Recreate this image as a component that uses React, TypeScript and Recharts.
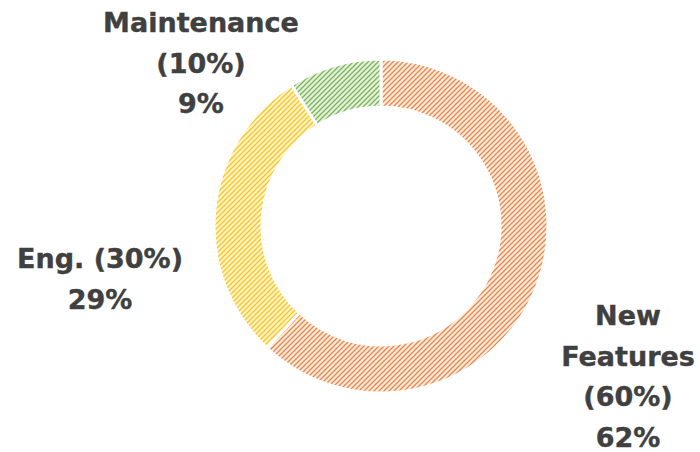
import React from "react";
import { PieChart, Pie, Cell } from "recharts";

const categories = ["New Features", "Eng.", "Maintenance"];
const plannedShare = ["60%", "30%", "10%"];
const actualShare = [62, 29, 9];

const data = categories.map((name, i) => ({
  name,
  planned: plannedShare[i],
  value: actualShare[i],
}));

const labelLines: string[][] = [
  ["New", "Features", `(${plannedShare[0]})`, `${actualShare[0]}%`],
  [`Eng. (${plannedShare[1]})`, `${actualShare[1]}%`],
  ["Maintenance", `(${plannedShare[2]})`, `${actualShare[2]}%`],
];

// layout: label anchor offsets from pie center (first baseline)
const labelOffsets = [
  { dx: 247, dy: 99 },
  { dx: -281, dy: 42 },
  { dx: -180, dy: -194 },
];

const patterns = [
  { id: "hatch-orange", line: "#EE8545", bg: "#FCEBDF" },
  { id: "hatch-yellow", line: "#FFC414", bg: "#FFF4D2" },
  { id: "hatch-green", line: "#7DB45A", bg: "#E4F1DB" },
];

const renderLabel = (props: any) => {
  const { cx, cy, index } = props;
  const off = labelOffsets[index];
  const lines = labelLines[index];
  const x = cx + off.dx;
  const y = cy + off.dy;
  return (
    <text
      key={`lbl-${index}`}
      x={x}
      y={y}
      textAnchor="middle"
      fill="#404040"
      stroke="#404040"
      strokeWidth={0.4}
      fontFamily="'DejaVu Sans', Verdana, sans-serif"
      fontWeight="bold"
      fontSize={27}
    >
      {lines.map((t, i) => (
        <tspan key={i} x={x} dy={i === 0 ? 0 : 40.5}>
          {t}
        </tspan>
      ))}
    </text>
  );
};

export default function App() {
  return (
    <div style={{ position: "absolute", left: 0, top: 0, width: 700, height: 452, background: "#fff" }}>
      <svg width={0} height={0} style={{ position: "absolute" }}>
        <defs>
          {patterns.map((p) => (
            <pattern key={p.id} id={p.id} patternUnits="userSpaceOnUse" width={5} height={5}>
              <rect x={0} y={0} width={5} height={5} fill={p.bg} />
              <path d="M-1,6 L6,-1 M-1,1 L1,-1 M4,6 L6,4" stroke={p.line} strokeWidth={1.3} />
            </pattern>
          ))}
        </defs>
      </svg>
      <PieChart width={700} height={452} margin={{ top: 0, right: 0, bottom: 0, left: 0 }}>
        <Pie
          data={data}
          dataKey="value"
          nameKey="name"
          cx={381}
          cy={226}
          innerRadius={119}
          outerRadius={167}
          startAngle={90}
          endAngle={-270}
          stroke="#ffffff"
          strokeWidth={3}
          label={renderLabel}
          labelLine={false}
          isAnimationActive={false}
        >
          {data.map((d, i) => (
            <Cell key={d.name} fill={`url(#${patterns[i].id})`} />
          ))}
        </Pie>
      </PieChart>
    </div>
  );
}
